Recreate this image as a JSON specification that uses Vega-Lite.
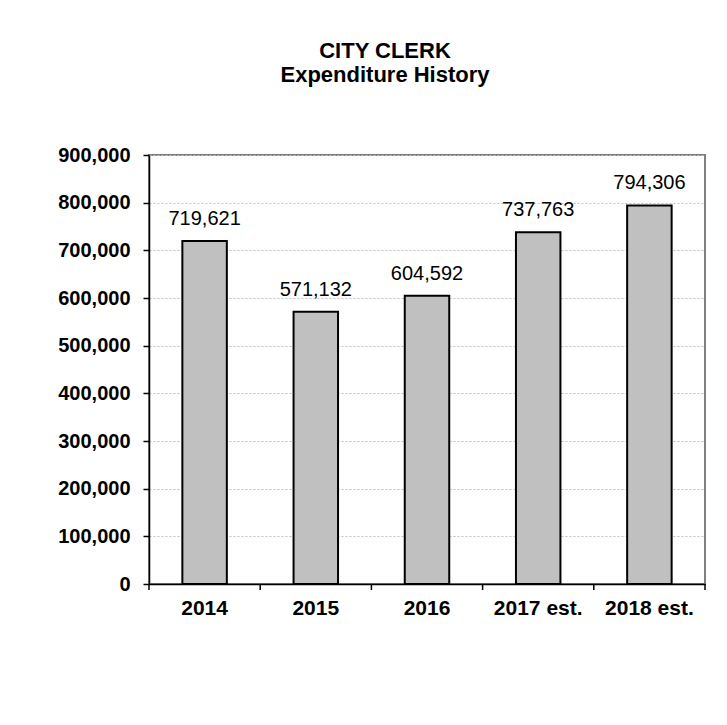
{
  "$schema": "https://vega.github.io/schema/vega-lite/v6.json",
  "width": 556,
  "height": 429,
  "autosize": {"type": "none"},
  "padding": {"left": 149, "top": 155, "right": 22, "bottom": 141},
  "background": "white",
  "title": {
    "text": ["CITY CLERK", "Expenditure History"],
    "font": "Liberation Sans",
    "fontSize": 22,
    "fontWeight": "bold",
    "color": "black",
    "lineHeight": 24,
    "anchor": "middle",
    "dx": -42,
    "offset": 58
  },
  "data": {
    "values": [
      {"year": "2014", "amount": 719621},
      {"year": "2015", "amount": 571132},
      {"year": "2016", "amount": 604592},
      {"year": "2017 est.", "amount": 737763},
      {"year": "2018 est.", "amount": 794306}
    ]
  },
  "encoding": {
    "x": {
      "field": "year",
      "type": "nominal",
      "sort": null,
      "scale": {"paddingInner": 0.6, "paddingOuter": 0.3},
      "axis": {
        "title": null,
        "labelAngle": 0,
        "labelFont": "Liberation Sans",
        "labelFontSize": 21,
        "labelFontWeight": "bold",
        "labelColor": "black",
        "labelPadding": 13,
        "ticks": false,
        "domainColor": "black",
        "domainWidth": 1.5
      }
    },
    "y": {
      "field": "amount",
      "type": "quantitative",
      "scale": {"domain": [0, 900000], "nice": false},
      "axis": {
        "title": null,
        "values": [0, 100000, 200000, 300000, 400000, 500000, 600000, 700000, 800000, 900000],
        "format": ",d",
        "labelFont": "Liberation Sans",
        "labelFontSize": 20,
        "labelFontWeight": "bold",
        "labelColor": "black",
        "labelPadding": 13,
        "tickSize": 6,
        "tickWidth": 1.5,
        "tickColor": "black",
        "domainColor": "black",
        "domainWidth": 1.5,
        "grid": true,
        "gridColor": "#c0c0c0",
        "gridDash": [2, 2],
        "gridWidth": 1
      }
    }
  },
  "layer": [
    {
      "mark": {"type": "bar", "fill": "#c0c0c0", "stroke": "black", "strokeWidth": 2}
    },
    {
      "mark": {
        "type": "text",
        "font": "Liberation Sans",
        "fontSize": 20,
        "baseline": "alphabetic",
        "dy": -16,
        "color": "black"
      },
      "encoding": {
        "text": {"field": "amount", "type": "quantitative", "format": ",d"}
      }
    },
    {
      "mark": {"type": "rule", "color": "black", "strokeWidth": 1.5, "xOffset": -33.36, "y2Offset": 6},
      "encoding": {
        "x": {"field": "year", "type": "nominal", "sort": null, "bandPosition": 0},
        "y": {"datum": 0},
        "y2": {"datum": 0}
      }
    },
    {
      "transform": [{"filter": "datum.year === '2018 est.'"}],
      "mark": {"type": "rule", "color": "black", "strokeWidth": 1.5, "xOffset": 33.36, "y2Offset": 6},
      "encoding": {
        "x": {"field": "year", "type": "nominal", "sort": null, "bandPosition": 1},
        "y": {"datum": 0},
        "y2": {"datum": 0}
      }
    }
  ],
  "config": {
    "view": {"stroke": "#808080", "strokeWidth": 2}
  }
}
